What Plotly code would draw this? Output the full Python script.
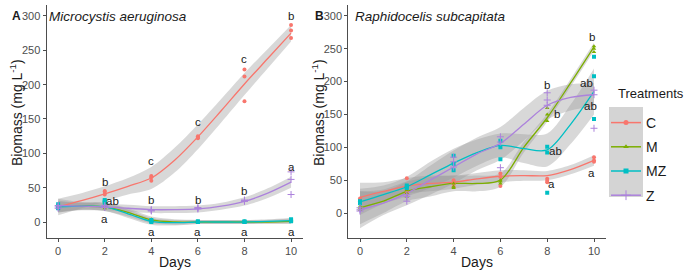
import plotly.graph_objects as go

# ---------------- data ----------------
TREATMENTS = ["C", "M", "MZ", "Z"]
COLORS = ["#F8766D", "#7CAE00", "#00BFC4", "#AC82DC"]
SYMBOLS = ["circle", "triangle-up", "square", "cross-thin"]

DAYS = [0, 2, 4, 6, 8, 10]
FIT_DAYS = [0, 1, 2, 3, 4, 5, 6, 7, 8, 9, 10]

# Panel A  (Microcystis aeruginosa) - replicate observations per day
A_C_OBS = [[20, 24, 22], [45, 40, 44], [67, 60, 65], [123, 125, 122], [222, 212, 176], [287, 279, 268]]
A_M_OBS = [[22, 25, 20], [30, 22, 20], [4, 2, 1], [1, 0, 0], [0, 1, 0], [2, 3, 1]]
A_MZ_OBS = [[20, 26, 22], [32, 30, 28], [3, 1, 0], [0, 1, 0], [0, 0, 1], [4, 1, 3]]
A_Z_OBS = [[22, 24, 20], [22, 24, 21], [18, 16, 17], [20, 21, 19], [31, 32, 30], [73, 62, 40]]

# Panel A smooth fits and ribbon half-widths
A_C_FIT = [22, 31, 41, 52, 64, 90, 124, 162, 201, 238, 275]
A_M_FIT = [23, 23, 22, 14, 3, 0, 0, 0, 0, 0, 1]
A_MZ_FIT = [22, 23, 22, 12, 1, -1, 0, 0, 0, 1, 2]
A_Z_FIT = [24, 23, 22, 20, 18, 18, 19, 23, 30, 42, 58]
A_C_SE = [12, 11, 11, 12, 16, 18, 18, 17, 16, 14, 12]
A_M_SE = [8, 5, 6, 6, 5, 4, 3, 3, 3, 3, 4]
A_MZ_SE = [8, 5, 6, 6, 5, 4, 3, 3, 3, 3, 4]
A_Z_SE = [10, 6, 5, 5, 5, 5, 5, 5, 6, 7, 8]

# Panel B (Raphidocelis subcapitata)
B_C_OBS = [[20, 22, 18], [53, 35, 30], [50, 45, 40], [60, 55, 41], [52, 49, 47], [85, 80, 78]]
B_M_OBS = [[8, 5, 10], [30, 25, 35], [45, 40, 38], [45, 50, 48], [160, 150, 140], [254, 250, 245]]
B_MZ_OBS = [[17, 15, 18], [40, 42, 38], [87, 65, 75], [100, 82, 110], [101, 92, 31], [238, 208, 143]]
B_Z_OBS = [[5, 3, 8], [25, 18, 28], [78, 85, 70], [116, 108, 69], [183, 172, 164], [187, 180, 129]]

B_C_FIT = [24, 33, 41, 45, 47, 52, 56, 57, 57, 66, 80]
B_M_FIT = [8, 18, 33, 40, 45, 45, 50, 100, 145, 198, 253]
B_MZ_FIT = [17, 28, 40, 58, 76, 92, 103, 98, 96, 135, 185]
B_Z_FIT = [5, 15, 30, 50, 70, 90, 106, 135, 164, 176, 180]
B_C_SE = [22, 14, 12, 12, 10, 9, 9, 8, 7, 7, 8]
B_M_SE = [25, 18, 15, 15, 12, 12, 10, 8, 6, 6, 6]
B_MZ_SE = [20, 14, 15, 20, 22, 20, 18, 22, 25, 30, 35]
B_Z_SE = [28, 18, 18, 22, 25, 25, 25, 25, 22, 20, 18]

# significance letters
A_LET_X = [2, 2.35, 2, 4, 4, 4, 6, 6, 6, 8, 8, 8, 10, 10, 10]
A_LET_Y = [58, 31, 4, 89, 32, -15, 146, 32, -15, 238, 45, -15, 300, 80, -15]
A_LET_T = ["b", "ab", "a", "c", "b", "a", "c", "b", "a", "c", "b", "a", "b", "a", "a"]
B_LET_X = [8, 8.4, 8.35, 8.2, 9.9, 9.7, 9.85, 9.9]
B_LET_Y = [195, 150, 94, 44, 268, 198, 163, 61]
B_LET_T = ["b", "b", "ab", "a", "b", "ab", "ab", "a"]

X_TICKS = [0, 2, 4, 6, 8, 10]
Y_TICKS = [0, 50, 100, 150, 200, 250, 300]

PANELS = [
    dict(xa="x", ya="y", obs=[A_C_OBS, A_M_OBS, A_MZ_OBS, A_Z_OBS],
         fit=[A_C_FIT, A_M_FIT, A_MZ_FIT, A_Z_FIT], se=[A_C_SE, A_M_SE, A_MZ_SE, A_Z_SE],
         lx=A_LET_X, ly=A_LET_Y, lt=A_LET_T),
    dict(xa="x2", ya="y2", obs=[B_C_OBS, B_M_OBS, B_MZ_OBS, B_Z_OBS],
         fit=[B_C_FIT, B_M_FIT, B_MZ_FIT, B_Z_FIT], se=[B_C_SE, B_M_SE, B_MZ_SE, B_Z_SE],
         lx=B_LET_X, ly=B_LET_Y, lt=B_LET_T),
]

W, H = 693, 273
FONT = "Liberation Sans, Arial, sans-serif"
RIBBON = "rgba(153,153,153,0.38)"
TXT = "#1a1a1a"

fig = go.Figure()
annotations = []


def marker_for(i, small=True):
    thin = SYMBOLS[i] == "cross-thin"
    size = (5 if thin else 4) if small else (7 if thin else 5)
    return dict(symbol=SYMBOLS[i], size=size, color=COLORS[i],
                line=dict(width=1 if thin else 0, color=COLORS[i]))


for p in PANELS:
    # ribbons
    for i, t in enumerate(TREATMENTS):
        fit, se = p["fit"][i], p["se"][i]
        lo = [f - s for f, s in zip(fit, se)]
        hi = [f + s for f, s in zip(fit, se)]
        fig.add_trace(go.Scatter(x=FIT_DAYS, y=lo, mode="lines", line=dict(width=0, shape="spline", smoothing=0.9),
                                 xaxis=p["xa"], yaxis=p["ya"], showlegend=False, hoverinfo="skip"))
        fig.add_trace(go.Scatter(x=FIT_DAYS, y=hi, mode="lines", line=dict(width=0, shape="spline", smoothing=0.9),
                                 fill="tonexty", fillcolor=RIBBON,
                                 xaxis=p["xa"], yaxis=p["ya"], showlegend=False, hoverinfo="skip"))
    # fitted lines
    for i, t in enumerate(TREATMENTS):
        fig.add_trace(go.Scatter(x=FIT_DAYS, y=p["fit"][i], mode="lines",
                                 line=dict(color=COLORS[i], width=1.3, shape="spline", smoothing=0.9),
                                 xaxis=p["xa"], yaxis=p["ya"], showlegend=False))
    # observations
    for i, t in enumerate(TREATMENTS):
        xs, ys = [], []
        for d, reps in zip(DAYS, p["obs"][i]):
            for v in reps:
                xs.append(d)
                ys.append(v)
        fig.add_trace(go.Scatter(x=xs, y=ys, mode="markers", marker=marker_for(i),
                                 xaxis=p["xa"], yaxis=p["ya"], showlegend=False))
    for x, y, t in zip(p["lx"], p["ly"], p["lt"]):
        annotations.append(dict(x=x, y=y, xref=p["xa"], yref=p["ya"], text=t, showarrow=False,
                                xanchor="center", yanchor="middle",
                                font=dict(size=11.5, color=TXT, family=FONT)))

# legend entries
for i, t in enumerate(TREATMENTS):
    fig.add_trace(go.Scatter(x=[None], y=[None], mode="lines+markers", name=t,
                             line=dict(color=COLORS[i], width=1.5), marker=marker_for(i, small=False),
                             legendgroup=t, showlegend=True))

ydom = [(H - 238) / H, (H - 5) / H]
axis_common = dict(showgrid=False, zeroline=False, showline=True, linecolor="#4d4d4d", linewidth=1,
                   ticks="outside", ticklen=3, tickcolor="#4d4d4d", tickwidth=1,
                   tickfont=dict(size=11, color="#4d4d4d", family=FONT))

fig.update_layout(
    width=W, height=H, margin=dict(l=0, r=0, t=0, b=0),
    paper_bgcolor="white", plot_bgcolor="white",
    font=dict(family=FONT),
    xaxis=dict(domain=[46.5 / W, 302.7 / W], range=[-0.5, 10.5], tickvals=X_TICKS, anchor="y", **axis_common),
    yaxis=dict(domain=ydom, range=[-23.3, 316], tickvals=Y_TICKS, anchor="x", **axis_common),
    xaxis2=dict(domain=[348.3 / W, 605.7 / W], range=[-0.5, 10.5], tickvals=X_TICKS, anchor="y2", **axis_common),
    yaxis2=dict(domain=ydom, range=[-38, 316.6], tickvals=Y_TICKS, anchor="x2", **axis_common),
    legend=dict(x=606 / W, y=1 - 107 / H, xanchor="left", yanchor="top", bgcolor="rgba(0,0,0,0)",
                font=dict(size=14, color=TXT, family=FONT), tracegroupgap=3),
    showlegend=True,
)


def label(x, y, text, size=14, angle=0):
    return dict(x=x / W, y=1 - y / H, xref="paper", yref="paper", text=text, showarrow=False,
                xanchor="center", yanchor="middle", textangle=angle,
                font=dict(size=size, color=TXT, family=FONT))


annotations += [
    label(16.5, 16, "<b>A</b>", 12),
    label(319, 16, "<b>B</b>", 12),
    label(118, 16, "<i>Microcystis aeruginosa</i>", 13.5),
    label(430, 16, "<i>Raphidocelis subcapitata</i>", 13.5),
    label(175, 262, "Days"),
    label(477, 262, "Days"),
    label(16, 113, "Biomass (mg L<sup>-1</sup>)", 14, -90),
    label(318, 113, "Biomass (mg L<sup>-1</sup>)", 14, -90),
    label(650.5, 93, "Treatments", 13),
]
fig.update_layout(annotations=annotations)

fig.add_shape(type="rect", xref="paper", yref="paper", x0=609 / W, x1=643 / W, y0=1 - 197 / H, y1=1 - 107 / H,
              fillcolor="#d4d4d4", line=dict(width=0), layer="below")

fig.write_html("out.html", config={"displayModeBar": False},
               post_script="document.body.style.margin='0px';")
